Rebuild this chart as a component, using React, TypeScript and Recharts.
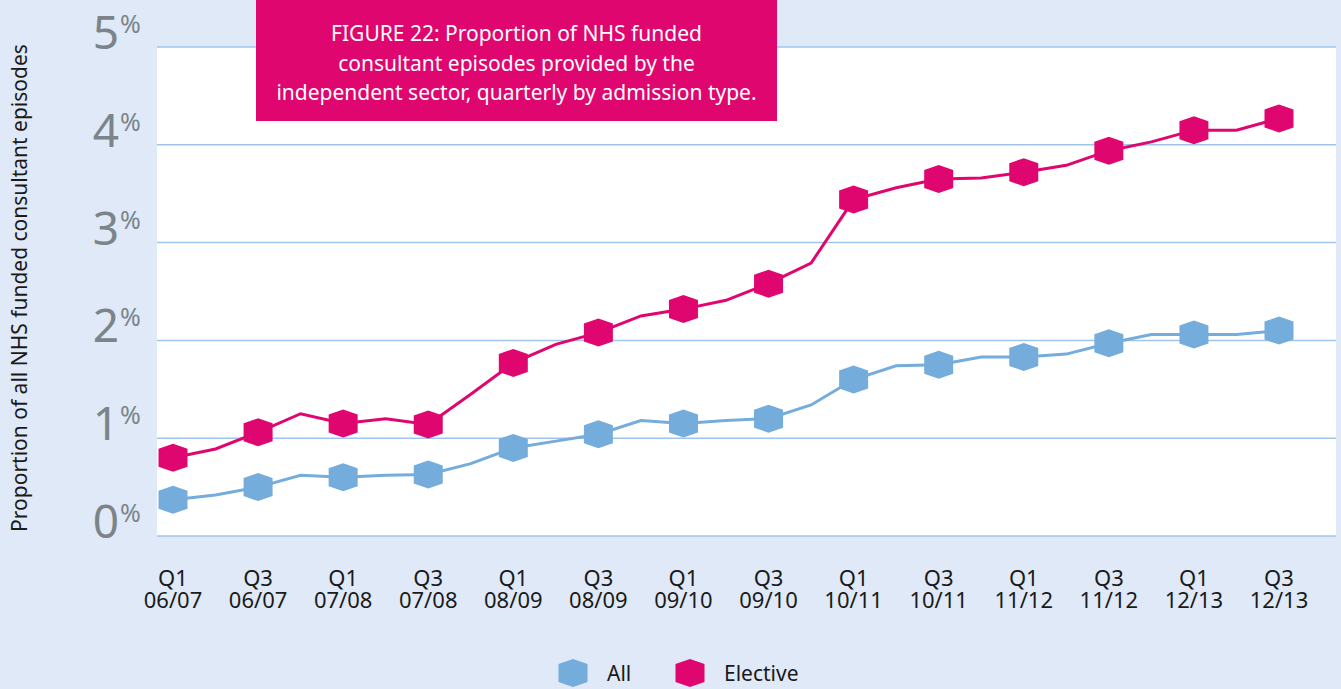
import React from 'react';
import { LineChart, Line, XAxis, YAxis, CartesianGrid, Legend } from 'recharts';

const quarters = [
  'Q1 06/07', 'Q2 06/07', 'Q3 06/07', 'Q4 06/07',
  'Q1 07/08', 'Q2 07/08', 'Q3 07/08', 'Q4 07/08',
  'Q1 08/09', 'Q2 08/09', 'Q3 08/09', 'Q4 08/09',
  'Q1 09/10', 'Q2 09/10', 'Q3 09/10', 'Q4 09/10',
  'Q1 10/11', 'Q2 10/11', 'Q3 10/11', 'Q4 10/11',
  'Q1 11/12', 'Q2 11/12', 'Q3 11/12', 'Q4 11/12',
  'Q1 12/13', 'Q2 12/13', 'Q3 12/13',
];

const allValues = [
  0.37, 0.42, 0.50, 0.62, 0.60, 0.62, 0.63, 0.74, 0.90, 0.97,
  1.04, 1.18, 1.15, 1.18, 1.20, 1.34, 1.60, 1.74, 1.75, 1.83,
  1.83, 1.86, 1.97, 2.06, 2.06, 2.06, 2.10,
];

const electiveValues = [
  0.80, 0.89, 1.06, 1.25, 1.15, 1.20, 1.14, 1.45, 1.77, 1.96,
  2.08, 2.25, 2.32, 2.41, 2.58, 2.79, 3.44, 3.56, 3.65, 3.66,
  3.72, 3.79, 3.94, 4.03, 4.15, 4.15, 4.27,
];

const yTicks = [0, 1, 2, 3, 4, 5];

const titleLines = [
  'FIGURE 22: Proportion of NHS funded',
  'consultant episodes provided by the',
  'independent sector, quarterly by admission type.',
];

const yAxisTitle = 'Proportion of all NHS funded consultant episodes';

const BG = '#dfe9f7';
const MAGENTA = '#e0066f';
const BLUE = '#74acdc';
const GRID = '#9fc6ea';
const FONT = '"Noto Sans", "Open Sans", sans-serif';

const data = quarters.map((q, i) => ({ q, all: allValues[i], elective: electiveValues[i] }));

const hexPath = (cx: number, cy: number) =>
  `M${cx},${cy - 14} L${cx + 14.5},${cy - 9} L${cx + 14.5},${cy + 9} L${cx},${cy + 14} L${cx - 14.5},${cy + 9} L${cx - 14.5},${cy - 9} Z`;

const makeDot = (color: string) => (props: any) => {
  const { cx, cy, index } = props;
  if (index % 2 !== 0 || cx == null || cy == null) return <g key={`d-${index}`} />;
  return <path key={`d-${index}`} d={hexPath(cx, cy)} fill={color} />;
};

const XTick = (props: any) => {
  const { x, y, payload } = props;
  const [a, b] = String(payload.value).split(' ');
  return (
    <g>
      <text x={x} y={y + 50} textAnchor="middle" fill="#1a1a1a" fontSize={22} fontFamily={FONT}>
        {a}
      </text>
      <text x={x} y={y + 72} textAnchor="middle" fill="#1a1a1a" fontSize={22} fontFamily={FONT}>
        {b}
      </text>
    </g>
  );
};

const YTick = (props: any) => {
  const { x, y, payload } = props;
  return (
    <g>
      <text x={x - 38} y={y + 2} textAnchor="end" fill="#7b8489" fontSize={46} fontWeight={400} fontFamily={FONT}>
        {payload.value}
      </text>
      <text x={x - 37} y={y - 14} textAnchor="start" fill="#7b8489" fontSize={25} fontWeight={400} fontFamily={FONT}>
        %
      </text>
    </g>
  );
};

const LegendContent = (props: any) => {
  const payload = props.payload || [];
  const items = [...payload].sort((p1: any) => (p1.dataKey === 'all' ? -1 : 1));
  const xs = [573, 690];
  return (
    <svg width={1341} height={34}>
      {items.map((it: any, i: number) => (
        <g key={it.value}>
          <path d={hexPath(xs[i], 17)} fill={it.color} />
          <text x={xs[i] + 34} y={25} fontSize={21} fill="#1a1a1a" fontFamily={FONT}>
            {it.value}
          </text>
        </g>
      ))}
    </svg>
  );
};

export default function App() {
  return (
    <div style={{ position: 'absolute', left: 0, top: 0, width: 1341, height: 689, background: BG, overflow: 'hidden' }}>
      <LineChart width={1341} height={689} data={data} margin={{ top: 47, right: 5, left: 0, bottom: 73 }}>
        <CartesianGrid vertical={false} stroke={GRID} strokeWidth={1.5} fill="#ffffff" fillOpacity={1} />
        <XAxis
          dataKey="q"
          interval={1}
          tick={<XTick />}
          tickLine={false}
          axisLine={false}
          tickSize={0}
          tickMargin={0}
          height={80}
          padding={{ left: 16, right: 57 }}
        />
        <YAxis
          domain={[0, 5]}
          ticks={yTicks}
          tick={<YTick />}
          tickLine={false}
          axisLine={false}
          tickSize={0}
          tickMargin={0}
          width={157}
          interval={0}
        />
        <Legend
          layout="horizontal"
          verticalAlign="middle"
          align="center"
          content={<LegendContent />}
          wrapperStyle={{ top: 656, left: 0, width: 1341, height: 34 }}
        />
        <Line
          dataKey="all"
          name="All"
          stroke={BLUE}
          strokeWidth={3}
          dot={makeDot(BLUE)}
          activeDot={false}
          isAnimationActive={false}
        />
        <Line
          dataKey="elective"
          name="Elective"
          stroke={MAGENTA}
          strokeWidth={3}
          dot={makeDot(MAGENTA)}
          activeDot={false}
          isAnimationActive={false}
        />
      </LineChart>
      <svg style={{ position: 'absolute', left: 0, top: 0 }} width={60} height={689}>
        <text
          transform="translate(27,288) rotate(-90)"
          textAnchor="middle"
          fontSize={21}
          fill="#1a1a1a"
          fontFamily={FONT}
        >
          {yAxisTitle}
        </text>
      </svg>
      <div
        style={{
          position: 'absolute',
          left: 256,
          top: 0,
          width: 521,
          height: 121,
          background: MAGENTA,
          color: '#ffffff',
          fontFamily: FONT,
          fontSize: 21,
          lineHeight: '29.5px',
          textAlign: 'center',
          paddingTop: 19,
          boxSizing: 'border-box',
        }}
      >
        {titleLines.map((l) => (
          <div key={l}>{l}</div>
        ))}
      </div>
    </div>
  );
}
